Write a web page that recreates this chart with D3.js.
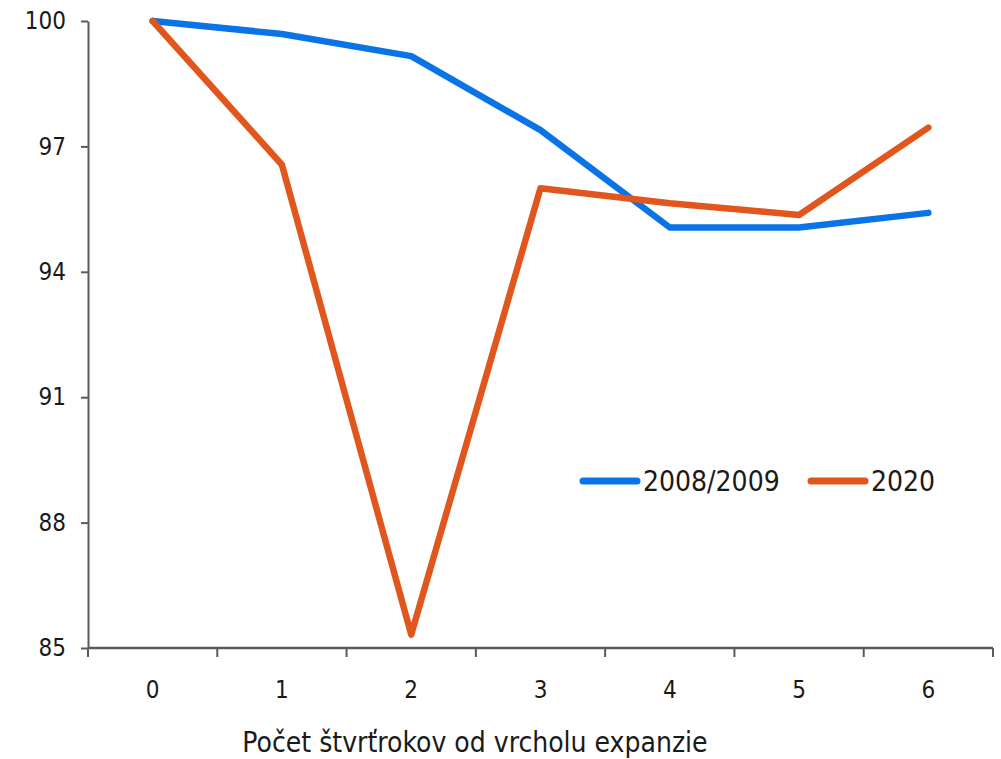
<!DOCTYPE html>
<html>
<head>
<meta charset="utf-8">
<script src="https://cdn.jsdelivr.net/npm/d3@7"></script>
<style>
  html, body { margin: 0; padding: 0; background: #fff; }
  svg { display: block; }
  text { font-family: "DejaVu Sans Condensed", "DejaVu Sans", sans-serif; fill: #1a1a1a; }
</style>
</head>
<body>
<svg id="chart" width="1001" height="759"></svg>
<script>
// Quarters since the peak of the expansion
const quarters = [0, 1, 2, 3, 4, 5, 6];
// Index (peak = 100)
const crisis2008 = [100, 99.69, 99.16, 97.39, 95.06, 95.06, 95.41];
const crisis2020 = [100, 96.56, 85.32, 96.0, 95.64, 95.36, 97.45];
const yTicks = [85, 88, 91, 94, 97, 100];
const seriesNames = ["2008/2009", "2020"];
const seriesColors = ["#0a74e6", "#e0561c"];
const xTitle = "Počet štvrťrokov od vrcholu expanzie";

const svg = d3.select("#chart");
const plotLeft = 88, plotRight = 993, plotTop = 21, plotBottom = 648;

const x = d3.scaleBand().domain(quarters).range([plotLeft, plotRight]).paddingInner(0).paddingOuter(0);
const y = d3.scaleLinear().domain([85, 100]).range([plotBottom, plotTop]);

// Y axis
const yAxis = svg.append("g")
  .attr("transform", `translate(${plotLeft},0)`)
  .call(d3.axisLeft(y).tickValues(yTicks).tickSize(7).tickSizeOuter(0).tickPadding(15));
yAxis.select(".domain").attr("stroke", "#5a5a5a").attr("stroke-width", 2);
yAxis.selectAll(".tick line").attr("stroke", "#5a5a5a").attr("stroke-width", 2);
yAxis.selectAll(".tick text").attr("font-size", 24).attr("fill", "#1a1a1a")
  .style("font-family", "'DejaVu Sans Condensed', 'DejaVu Sans', sans-serif");

// X axis: ticks sit on band boundaries, labels at band centres
const xAxisG = svg.append("g").attr("transform", `translate(0,${plotBottom})`);
xAxisG.append("line").attr("x1", plotLeft).attr("x2", plotRight).attr("y1", 0).attr("y2", 0)
  .attr("stroke", "#5a5a5a").attr("stroke-width", 2.5);
const boundaries = quarters.map(q => x(q)).concat([x(quarters[quarters.length - 1]) + x.bandwidth()]);
xAxisG.selectAll("line.tk").data(boundaries).enter().append("line")
  .attr("class", "tk")
  .attr("x1", d => d).attr("x2", d => d).attr("y1", 0).attr("y2", 9)
  .attr("stroke", "#5a5a5a").attr("stroke-width", 2);
xAxisG.selectAll("text.lbl").data(quarters).enter().append("text")
  .attr("class", "lbl")
  .attr("x", d => x(d) + x.bandwidth() / 2)
  .attr("y", 50)
  .attr("text-anchor", "middle")
  .attr("font-size", 24)
  .text(d => d);

svg.append("text")
  .attr("x", 475).attr("y", 752)
  .attr("text-anchor", "middle")
  .attr("font-size", 28)
  .text(xTitle);

// Lines
const line = d3.line()
  .x((d, i) => x(quarters[i]) + x.bandwidth() / 2)
  .y(d => y(d));

[crisis2008, crisis2020].forEach((s, i) => {
  svg.append("path")
    .datum(s)
    .attr("fill", "none")
    .attr("stroke", seriesColors[i])
    .attr("stroke-width", 6.5)
    .attr("stroke-linejoin", "round")
    .attr("stroke-linecap", "round")
    .attr("d", line);
});

// Legend
const legendItems = [
  { name: seriesNames[0], color: seriesColors[0], x: 583 },
  { name: seriesNames[1], color: seriesColors[1], x: 811 }
];
const lg = svg.append("g");
legendItems.forEach(it => {
  lg.append("line")
    .attr("x1", it.x).attr("x2", it.x + 54).attr("y1", 481).attr("y2", 481)
    .attr("stroke", it.color).attr("stroke-width", 7).attr("stroke-linecap", "round");
  lg.append("text")
    .attr("x", it.x + 60).attr("y", 491)
    .attr("font-size", 28)
    .text(it.name);
});
</script>
</body>
</html>
